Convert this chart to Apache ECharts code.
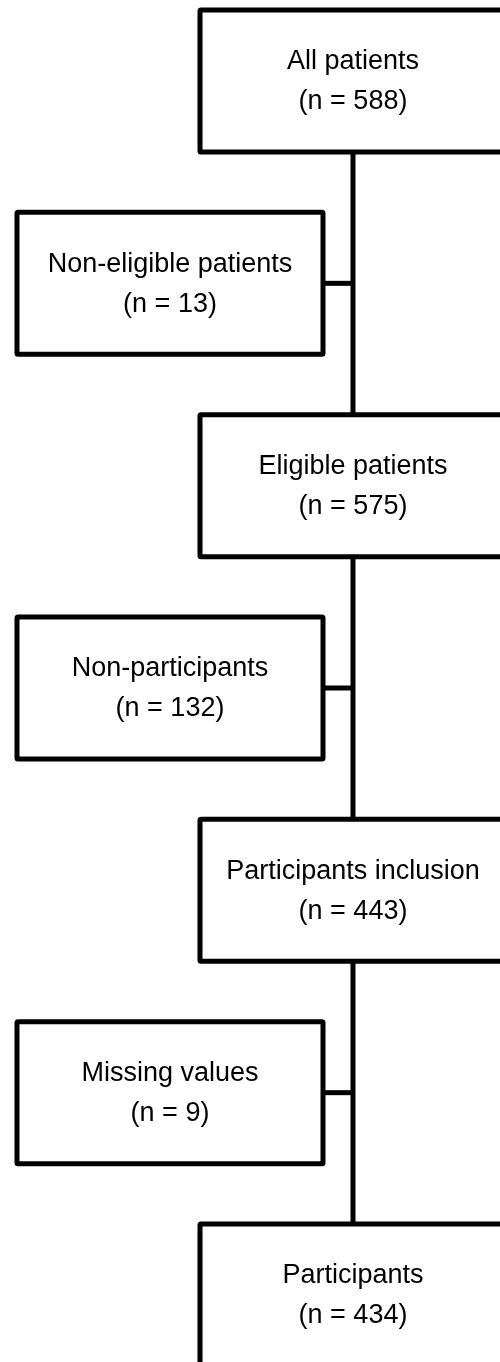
<!DOCTYPE html>
<html>
<head>
<meta charset="utf-8">
<script src="https://cdn.jsdelivr.net/npm/echarts@6/dist/echarts.min.js"></script>
<style>
  html, body { margin: 0; padding: 0; background: #fff; }
  #chart { width: 500px; height: 1362px; }
</style>
</head>
<body>
<div id="chart"></div>
<script>
// Flowchart content
const labels = ['All patients', 'Non-eligible patients', 'Eligible patients', 'Non-participants', 'Participants inclusion', 'Missing values', 'Participants'];
const counts = [588, 13, 575, 132, 443, 9, 434];
const columns = [1, 0, 1, 0, 1, 0, 1];   // 1 = main flow, 0 = excluded branch
const rows = [0, 1, 2, 3, 4, 5, 6];

const data = labels.map((l, i) => [columns[i], rows[i], l, counts[i]]);

const BOX_W = 306, BOX_H = 142, LW = 5;

const chart = echarts.init(document.getElementById('chart'), null, { renderer: 'canvas' });

chart.setOption({
  backgroundColor: '#fff',
  animation: false,
  grid: { left: 170, right: 147, top: 81, bottom: 67 },
  xAxis: { type: 'value', min: 0, max: 1, show: false },
  yAxis: { type: 'value', min: 0, max: 6, inverse: true, show: false },
  series: [{
    type: 'custom',
    coordinateSystem: 'cartesian2d',
    data: data,
    clip: false,
    renderItem: function (params, api) {
      const col = api.value(0);
      const row = api.value(1);
      const idx = params.dataIndex;
      const c = api.coord([col, row]);
      const children = [];
      if (col === 1) {
        if (row < 6) {
          const n = api.coord([1, row + 2]);
          children.push({
            type: 'line',
            shape: { x1: c[0], y1: c[1] + BOX_H / 2, x2: n[0], y2: n[1] - BOX_H / 2 },
            style: { stroke: '#000', lineWidth: LW }
          });
        }
      } else {
        const m = api.coord([1, row]);
        children.push({
          type: 'line',
          shape: { x1: c[0] + BOX_W / 2, y1: c[1], x2: m[0], y2: c[1] },
          style: { stroke: '#000', lineWidth: LW }
        });
      }
      children.push({
        type: 'rect',
        shape: { x: c[0] - BOX_W / 2, y: c[1] - BOX_H / 2, width: BOX_W, height: BOX_H, r: 1 },
        style: { fill: '#fff', stroke: '#000', lineWidth: LW }
      });
      children.push({
        type: 'text',
        style: {
          text: labels[idx] + '\n(n = ' + counts[idx] + ')',
          x: c[0],
          y: c[1] + 1,
          align: 'center',
          verticalAlign: 'middle',
          fill: '#000',
          font: '27px "Liberation Sans", Arial, sans-serif',
          lineHeight: 40
        }
      });
      return { type: 'group', children: children };
    }
  }]
});
</script>
</body>
</html>
